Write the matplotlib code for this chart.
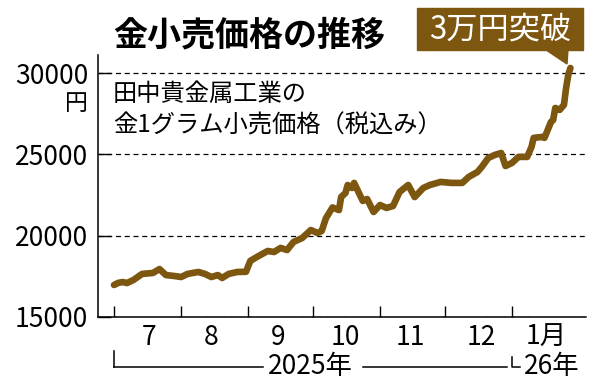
import pandas as pd
import matplotlib
matplotlib.use("Agg")
import matplotlib.pyplot as plt
import matplotlib.dates as mdates
from matplotlib.patches import Rectangle, Polygon
from matplotlib.transforms import blended_transform_factory

plt.rcParams['font.family'] = ['Noto Sans CJK JP', 'DejaVu Sans']

# 金1グラム小売価格（税込み）, values
dates = ["2025-07-01", "2025-07-03", "2025-07-05", "2025-07-07", "2025-07-10",
         "2025-07-14", "2025-07-19", "2025-07-22", "2025-07-25", "2025-07-29",
         "2025-08-01", "2025-08-04", "2025-08-09", "2025-08-12", "2025-08-15",
         "2025-08-18", "2025-08-20", "2025-08-23", "2025-08-27", "2025-08-31",
         "2025-09-02", "2025-09-05", "2025-09-10", "2025-09-13", "2025-09-16",
         "2025-09-19", "2025-09-22", "2025-09-26", "2025-09-30", "2025-10-03",
         "2025-10-05", "2025-10-07", "2025-10-10", "2025-10-13", "2025-10-14",
         "2025-10-16", "2025-10-17", "2025-10-19", "2025-10-20", "2025-10-22",
         "2025-10-24", "2025-10-26", "2025-10-29", "2025-11-01", "2025-11-04",
         "2025-11-07", "2025-11-10", "2025-11-14", "2025-11-17", "2025-11-21",
         "2025-11-24", "2025-11-29", "2025-12-04", "2025-12-09", "2025-12-12",
         "2025-12-16", "2025-12-18", "2025-12-21", "2025-12-24", "2025-12-27",
         "2025-12-29", "2026-01-01", "2026-01-04", "2026-01-08", "2026-01-10",
         "2026-01-11", "2026-01-15", "2026-01-16", "2026-01-19", "2026-01-20",
         "2026-01-21", "2026-01-23", "2026-01-25", "2026-01-26", "2026-01-27",
         "2026-01-28"]
prices = [16970, 17100, 17150, 17090, 17280,
          17650, 17710, 17950, 17580, 17520,
          17460, 17650, 17770, 17650, 17460,
          17580, 17400, 17650, 17770, 17780,
          18450, 18690, 19060, 19000, 19250,
          19120, 19620, 19860, 20350, 20170,
          20290, 21090, 21740, 21580, 22380,
          22630, 23120, 22940, 23250, 22690,
          22140, 22260, 21460, 21890, 21710,
          21830, 22690, 23120, 22380, 22940,
          23120, 23310, 23250, 23250, 23620,
          23920, 24230, 24780, 24970, 25090,
          24290, 24480, 24850, 24850, 25460,
          26020, 26080, 26020, 27000, 27120,
          27860, 27740, 28050, 29090, 29890,
          30320]

month_starts = ["2025-07-01", "2025-08-01", "2025-09-01", "2025-10-01",
                "2025-11-01", "2025-12-01", "2026-01-01"]
month_label_pos = ["2025-07-17", "2025-08-15", "2025-09-15", "2025-10-16",
                   "2025-11-15", "2025-12-18", "2026-01-17"]
month_labels = ["7", "8", "9", "10", "11", "12", "1月"]
yticks = [15000, 20000, 25000, 30000]

gold = "#7d5610"

x = pd.to_datetime(dates)

fig = plt.figure(figsize=(6, 3.87), dpi=100)
ax = fig.add_axes([0.1633, 0.1809, 0.8134, 0.677])

ax.plot(x, prices, color=gold, linewidth=4.8, solid_capstyle='round',
        solid_joinstyle='round', zorder=3)

ax.set_ylim(15000, 31120)
ax.set_xlim(pd.Timestamp("2025-06-23 14:00"), pd.Timestamp("2026-02-04 05:00"))

ax.set_yticks(yticks)
ax.set_yticklabels([str(v) for v in yticks])
ax.yaxis.grid(True, linestyle=(0, (4, 3)), color="black", linewidth=0.9)
ax.tick_params(axis='y', direction='in', length=9, width=1, pad=7,
               labelsize=19)

ax.set_xticks(pd.to_datetime(month_starts))
ax.set_xticklabels([])
ax.set_xticks(pd.to_datetime(month_label_pos), minor=True)
ax.set_xticklabels(month_labels, minor=True)
ax.tick_params(axis='x', which='major', direction='in', length=8, width=1)
ax.tick_params(axis='x', which='minor', length=0, pad=5, labelsize=19)

for s in ["top", "right"]:
    ax.spines[s].set_visible(False)
for s in ["left", "bottom"]:
    ax.spines[s].set_linewidth(1.1)

# unit, tucked just under the top tick label
fig.text(88 / 600, 1 - 104 / 387, "円", ha='right', va='center', fontsize=16.5)

# title and note
fig.text(113 / 600, 1 - 35 / 387, "金小売価格の推移", ha='left', va='center',
         fontsize=24.5, fontweight='bold')
fig.text(113 / 600, 1 - 94 / 387, "田中貴金属工業の", ha='left', va='center',
         fontsize=17.5)
fig.text(113 / 600, 1 - 126 / 387, "金1グラム小売価格（税込み）", ha='left',
         va='center', fontsize=17.5)

# callout
box_l, box_r, box_t, box_b = 417 / 600, 583 / 600, 1 - 8 / 387, 1 - 50 / 387
fig.patches.append(Rectangle((box_l, box_b), box_r - box_l, box_t - box_b,
                             transform=fig.transFigure, color=gold, zorder=5))
fig.patches.append(Polygon([(545 / 600, box_b + 0.002), (568 / 600, box_b + 0.002),
                            (567 / 600, 1 - 64 / 387)],
                           transform=fig.transFigure, color=gold, zorder=5))
fig.text((box_l + box_r) / 2, (box_t + box_b) / 2, "3万円突破", color="white",
         ha='center', va='center', fontsize=22.5, zorder=6)

# year bracket
tr = blended_transform_factory(ax.transData, fig.transFigure)
jul1 = mdates.date2num(pd.Timestamp("2025-07-01"))
jan1 = mdates.date2num(pd.Timestamp("2026-01-01"))
y_br = 1 - 367 / 387
y_top = 1 - 351 / 387
lk = dict(color="black", linewidth=1.1, clip_on=False)
ax.plot([jul1, jul1], [y_top, y_br], transform=tr, **lk)
ax.plot([jul1, jul1 + (263 - 114) / 2.163], [y_br, y_br], transform=tr, **lk)
ax.plot([jul1 + (363 - 114) / 2.163, jan1 - 5 / 2.163], [y_br, y_br], transform=tr, **lk)
ax.plot([jan1, jan1, jan1 + 8 / 2.163], [1 - 357 / 387, y_br, y_br], transform=tr, **lk)
fig.text(310 / 600, y_br, "2025年", ha='center', va='center', fontsize=19)
fig.text(524 / 600, y_br, "26年", ha='left', va='center', fontsize=19)

fig.savefig("out.png", dpi=100, facecolor="white")
